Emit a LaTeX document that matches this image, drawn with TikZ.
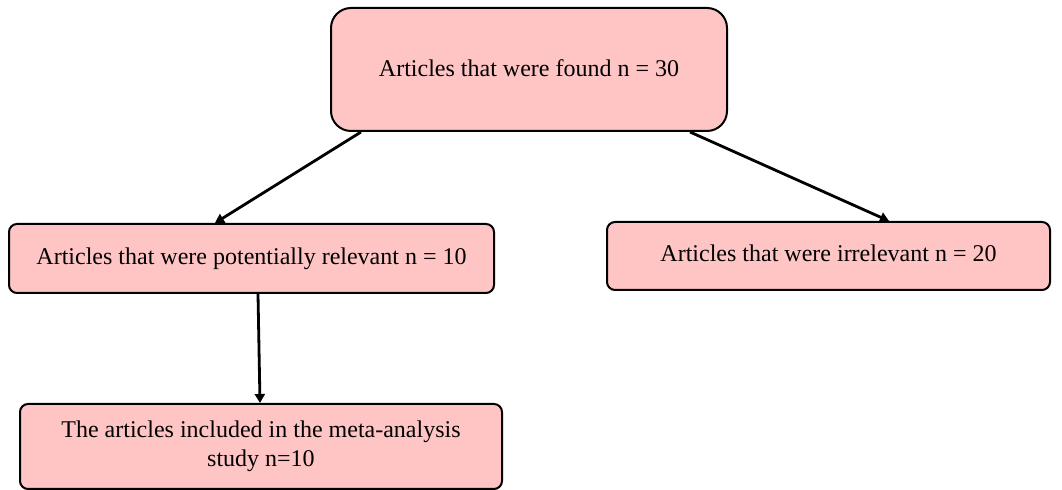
\documentclass[tikz,border=0pt]{standalone}
\usepackage{fontspec}
\setmainfont{Liberation Serif}
\usepackage{tikz}
\usetikzlibrary{arrows.meta, positioning}
\usepackage{xcolor}
\definecolor{boxpink}{RGB}{255,197,197}

\begin{document}
\begin{tikzpicture}[x=0.5pt, y=-0.5pt,
  stagebox/.style={draw, line width=1pt, fill=boxpink, rounded corners=4pt,
    align=center, font=\fontsize{12}{13.5}\selectfont, inner sep=0pt},
  flow/.style={-{Triangle[length=4.5pt, width=5pt]}, line width=1.4pt}]
\useasboundingbox (0,0) rectangle (1062,490);
\node[stagebox, rounded corners=10pt, minimum width=198pt, minimum height=61.5pt] (found) at (529,69.5) {\raisebox{1.5pt}{Articles that were found n = 30}};
\node[stagebox, minimum width=242.5pt, minimum height=34.5pt] (relevant) at (251.5,258.5) {\raisebox{2.5pt}{Articles that were potentially relevant n = 10}};
\node[stagebox, minimum width=221.5pt, minimum height=34pt] (irrelevant) at (828.5,256) {\raisebox{2.5pt}{Articles that were irrelevant n = 20}};
\node[stagebox, minimum width=241pt, minimum height=42.5pt] (included) at (261,446.5) {\raisebox{2.5pt}{\begin{tabular}{@{}c@{}}The articles included in the meta-analysis\\[1pt] study n=10\end{tabular}}};
\draw[flow] ([xshift=15.5pt]found.south west) -- ([xshift=-18.25pt]relevant.north);
\draw[flow] ([xshift=-19pt]found.south east) -- ([xshift=30.25pt]irrelevant.north);
\draw[flow] ([xshift=3.25pt]relevant.south) -- ([xshift=-0.5pt]included.north);
\end{tikzpicture}
\end{document}
